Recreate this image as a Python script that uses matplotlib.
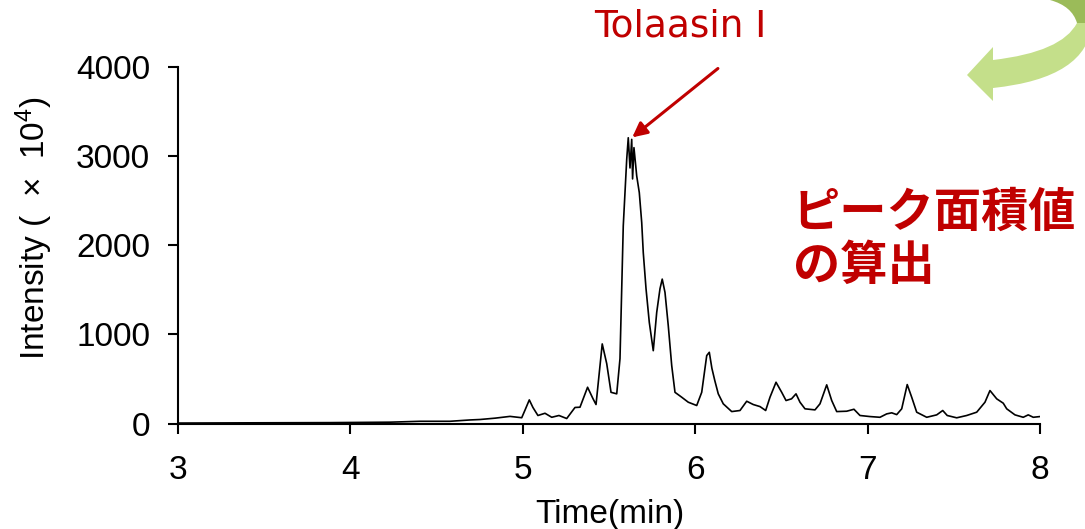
import matplotlib
matplotlib.use("Agg")
import matplotlib.pyplot as plt
from matplotlib.path import Path
from matplotlib.patches import PathPatch

# chromatogram (time in min, intensity x10^4)
time_min = [3.0, 3.476, 3.882, 4.23, 4.404, 4.578, 4.694, 4.752, 4.839, 4.926,
            4.994, 5.013, 5.038, 5.059, 5.088, 5.129, 5.168, 5.210, 5.255, 5.303,
            5.332, 5.376, 5.407, 5.425, 5.461, 5.487, 5.512, 5.545, 5.564, 5.583,
            5.603, 5.612, 5.622, 5.632, 5.637, 5.645, 5.661, 5.676, 5.690, 5.699,
            5.715, 5.734, 5.757, 5.777, 5.796, 5.809, 5.825, 5.844, 5.864, 5.883,
            5.922, 5.960, 6.009, 6.038, 6.067, 6.082, 6.097, 6.114, 6.134, 6.163,
            6.212, 6.260, 6.299, 6.337, 6.376, 6.409, 6.434, 6.469, 6.502, 6.527,
            6.559, 6.585, 6.608, 6.637, 6.695, 6.724, 6.763, 6.792, 6.821, 6.879,
            6.921, 6.956, 7.014, 7.072, 7.111, 7.140, 7.169, 7.198, 7.230, 7.256,
            7.285, 7.343, 7.401, 7.436, 7.462, 7.517, 7.575, 7.633, 7.681, 7.710,
            7.749, 7.787, 7.807, 7.855, 7.903, 7.932, 7.961, 8.0]
intensity = [5, 8, 10, 15, 25, 25, 40, 45, 60, 80,
             65, 150, 265, 180, 90, 115, 70, 90, 56, 180,
             183, 407, 280, 213, 893, 672, 350, 333, 728, 2217,
             2964, 3206, 2867, 3188, 2744, 3095, 2777, 2590, 2254, 1918,
             1512, 1134, 817, 1247, 1512, 1620, 1471, 1098, 650, 350,
             295, 239, 202, 350, 762, 799, 620, 481, 333, 221,
             134, 146, 250, 213, 190, 146, 295, 463, 350, 258,
             277, 333, 239, 165, 153, 221, 434, 258, 134, 138,
             160, 90, 78, 70, 108, 120, 100, 165, 437, 295,
             127, 70, 97, 146, 90, 64, 90, 127, 239, 370,
             277, 228, 165, 97, 70, 97, 70, 78]

x_ticks = [3, 4, 5, 6, 7, 8]
y_ticks = [0, 1000, 2000, 3000, 4000]

peak_label = "Tolaasin I"
peak_time = 5.635
peak_value = 3210
note_text = "ピーク面積値\nの算出"

plt.rcParams['font.family'] = ['Liberation Sans', 'DejaVu Sans']
plt.rcParams['mathtext.fontset'] = 'custom'
plt.rcParams['mathtext.rm'] = 'Liberation Sans'
plt.rcParams['mathtext.it'] = 'Liberation Sans:italic'

W, H = 1085, 529
fig = plt.figure(figsize=(W / 100, H / 100), dpi=100)
ax = fig.add_axes([0.164, 0.1994, 0.7945, 0.674])

ax.plot(time_min, intensity, color='black', lw=1.2)

ax.set_xlim(3, 8)
ax.set_ylim(0, 4000)
ax.set_xticks(x_ticks)
ax.set_yticks(y_ticks)
for side in ['top', 'right']:
    ax.spines[side].set_visible(False)
for side in ['left', 'bottom']:
    ax.spines[side].set_linewidth(1.5)
ax.tick_params(axis='both', direction='out', length=7, width=1.5, labelsize=24)
ax.tick_params(axis='x', pad=16)
ax.tick_params(axis='y', pad=13)

ax.set_xlabel('Time(min)', fontsize=24)
ax.xaxis.set_label_coords(0.501, -0.212)
ax.set_ylabel('Intensity (  ×  10$^4$)', fontsize=24)
ax.yaxis.set_label_coords(-0.143, 0.548)

# red label and arrow to the main peak
red = '#C00000'
ax.annotate('', xy=(peak_time, peak_value), xytext=(6.132, 3983),
            arrowprops=dict(arrowstyle='-|>', color=red, lw=2.2,
                            mutation_scale=22, shrinkA=0, shrinkB=0),
            annotation_clip=False)
ax.text(5.912, 4450, peak_label, color=red, fontsize=27, ha='center',
        va='center', family=['DejaVu Sans'], clip_on=False)

fig.text(793 / W, 1 - 239 / H, note_text, color=red, fontsize=34,
         fontweight='bold', ha='left', va='center', linespacing=1.13,
         family=['Noto Sans CJK JP', 'DejaVu Sans'])


# green curved arrow in the top right corner (pixel outline, y down)
def px(x, y):
    return (x / W, 1 - y / H)


band = Path([px(1077, 23), px(1062, 52), px(993, 60), px(993, 47), px(967, 75),
             px(993, 101), px(993, 88), px(1088, 78), px(1092, 23), px(1077, 23)],
            [Path.MOVETO, Path.CURVE3, Path.CURVE3, Path.LINETO, Path.LINETO,
             Path.LINETO, Path.LINETO, Path.CURVE3, Path.CURVE3, Path.CLOSEPOLY])
back = Path([px(1050, 0), px(1072, 6), px(1077, 23), px(1092, 23), px(1092, 0),
             px(1050, 0)],
            [Path.MOVETO, Path.CURVE3, Path.CURVE3, Path.LINETO, Path.LINETO,
             Path.CLOSEPOLY])
fig.patches.append(PathPatch(band, transform=fig.transFigure,
                             facecolor='#C4DF8A', edgecolor='none'))
fig.patches.append(PathPatch(back, transform=fig.transFigure,
                             facecolor='#9BBB59', edgecolor='none'))

fig.savefig('out.png', dpi=100)
